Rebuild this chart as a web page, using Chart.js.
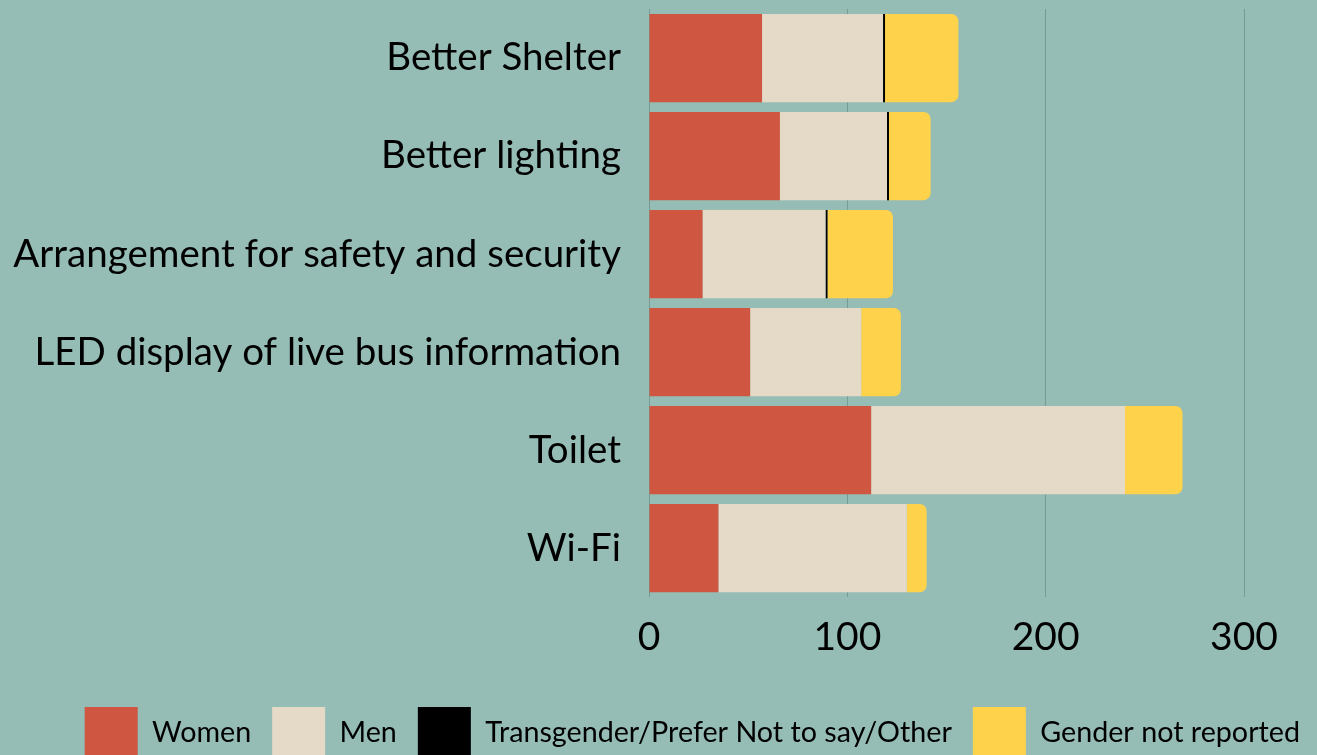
<!DOCTYPE html>
<html lang="en">
<head>
    <meta charset="UTF-8">
    <script src="https://cdn.jsdelivr.net/npm/chart.js"></script>
    <title>Bus stop improvements by gender</title>
    <style>
        *{
            margin: 0;
            padding: 0;
        }
        html, body{
            width: 1317px;
            height: 755px;
            overflow: hidden;
            background-color: #95bdb5;
        }
        #wrap{
            position: relative;
            width: 1317px;
            height: 769px;
        }
    </style>
</head>
<body>
    <div id="wrap">
        <canvas id="chart"></canvas>
    </div>
    <script>
        const categories = ["Better Shelter", "Better lighting", "Arrangement for safety and security", "LED display of live bus information", "Toilet", "Wi-Fi"]
        const women = [57, 66, 27, 51, 112, 35]
        const men = [61, 54, 62, 56, 128, 95]
        const other = [1, 1, 1, 0, 0, 0]
        const notReported = [37, 21, 33, 20, 29, 10]
        const xTicks = [0, 100, 200, 300]

        Chart.defaults.font.family = "Lato, sans-serif"
        Chart.defaults.color = "#000"

        const data = {
            labels: categories,
            datasets: [{
                label: "Women",
                backgroundColor: "#cf5640",
                data: women
            },
            {
                label: "Men",
                backgroundColor: "#e5d9c8",
                data: men
            },
            {
                label: "Transgender/Prefer Not to say/Other",
                backgroundColor: "#000000",
                data: other
            },
            {
                label: "Gender not reported",
                backgroundColor: "#fed24b",
                borderRadius: 7,
                borderSkipped: "start",
                data: notReported
            }]
        }

        const config = {
            type: "bar",
            data: data,
            options: {
                indexAxis: "y",
                responsive: true,
                maintainAspectRatio: false,
                animation: false,
                barPercentage: 0.9,
                categoryPercentage: 1,
                layout: {
                    // slightly negative right so the legend text ends where the original does
                    padding: {left: 0, top: 9, right: -4, bottom: 0}
                },
                plugins: {
                    tooltip: {enabled: false},
                    legend: {
                        position: "bottom",
                        align: "end",
                        labels: {
                            boxWidth: 53,
                            boxHeight: 52,
                            padding: 21,
                            font: {size: 28.7}
                        }
                    }
                },
                scales: {
                    x: {
                        stacked: true,
                        min: 0,
                        max: 300,
                        afterBuildTicks: (s) => { s.ticks = xTicks.map(v => ({value: v})) },
                        afterFit: (s) => {
                            s.paddingRight = 73
                            s.height += 8
                        },
                        grid: {color: "#759b94", lineWidth: 1, drawTicks: false},
                        border: {display: false},
                        ticks: {font: {size: 39}, padding: 17}
                    },
                    y: {
                        stacked: true,
                        afterFit: (s) => {
                            s.width = 649
                            s.paddingTop = 0
                            s.paddingBottom = 0
                        },
                        grid: {display: false},
                        border: {display: false},
                        ticks: {font: {size: 38.5}, padding: 20}
                    }
                }
            }
        }

        const chart = new Chart(
            document.getElementById("chart"),
            config
        )
    </script>
</body>
</html>
